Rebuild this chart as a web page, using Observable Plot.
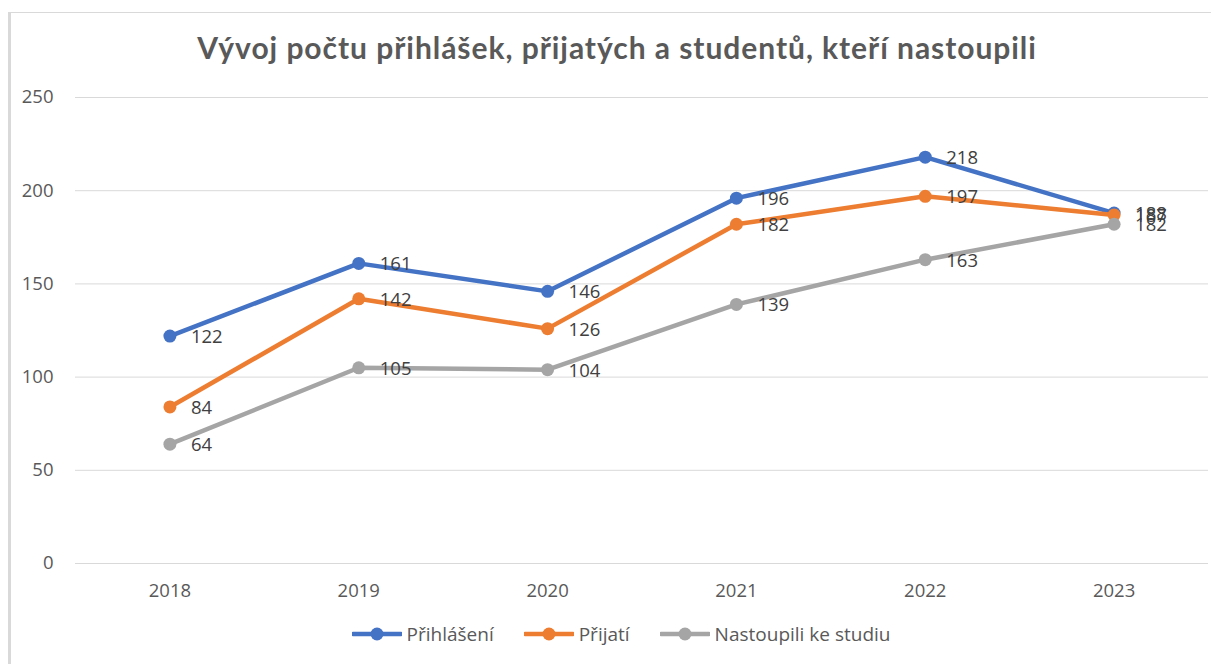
<!DOCTYPE html>
<html>
<head>
<meta charset="utf-8">
<script src="https://cdn.jsdelivr.net/npm/d3@7"></script>
<script src="https://cdn.jsdelivr.net/npm/@observablehq/plot@0.6"></script>
<style>
  html, body { margin: 0; padding: 0; background: #fff; }
  #wrap { position: relative; width: 1211px; height: 664px; overflow: hidden; font-family: "Open Sans", sans-serif; }
  #frame { position: absolute; left: 8px; top: 12px; right: -5px; bottom: -5px; border-left: 3px solid #d9d9d9; border-top: 1.5px solid #d9d9d9; }
  #title { position: absolute; left: 0; width: 1234px; top: 29px; line-height: 1.2; text-align: center; font-family: Lato, sans-serif; font-weight: bold; font-size: 30px; letter-spacing: 0.95px; color: #595959; white-space: nowrap; }
  #chart { position: absolute; left: 0; top: 80px; }
  #legend { position: absolute; top: 621px; left: 0; width: 1242px; display: flex; justify-content: center; align-items: center; font-size: 19px; color: #595959; }
  .item { display: flex; align-items: center; margin: 0 15px; }
  .item svg { margin-right: 5px; }
</style>
</head>
<body>
<div id="wrap">
  <div id="frame"></div>
  <div id="title">Vývoj počtu přihlášek, přijatých a studentů, kteří nastoupili</div>
  <div id="chart"></div>
  <div id="legend"></div>
</div>
<script>
const years = ["2018", "2019", "2020", "2021", "2022", "2023"];
const seriesNames = ["Přihlášení", "Přijatí", "Nastoupili ke studiu"];
const prihlaseni = [122, 161, 146, 196, 218, 188];
const prijati = [84, 142, 126, 182, 197, 187];
const nastoupili = [64, 105, 104, 139, 163, 182];
const colors = ["#4472C4", "#ED7D31", "#A5A5A5"];
const yTicks = [0, 50, 100, 150, 200, 250];

const allSeries = [prihlaseni, prijati, nastoupili];
const rows = [];
allSeries.forEach((vals, si) => {
  vals.forEach((v, i) => rows.push({year: years[i], value: v, series: seriesNames[si]}));
});

const marks = [
  Plot.ruleY(yTicks, {stroke: "#d9d9d9", strokeWidth: 1})
];
seriesNames.forEach((name, si) => {
  const d = rows.filter(r => r.series === name);
  marks.push(Plot.line(d, {x: "year", y: "value", stroke: colors[si], strokeWidth: 4.5}));
  marks.push(Plot.dot(d, {x: "year", y: "value", fill: colors[si], r: 6.5}));
});
seriesNames.forEach((name, si) => {
  const d = rows.filter(r => r.series === name);
  marks.push(Plot.text(d, {x: "year", y: "value", text: r => String(r.value), dx: 21, dy: 1, textAnchor: "start", fontSize: 18.5, fill: "#404040", fontFamily: "Open Sans"}));
});
marks.push(Plot.axisY(yTicks, {tickSize: 0, tickPadding: 22, fontSize: 18.5, fill: "#595959", fontFamily: "Open Sans"}));
marks.push(Plot.axisX({tickSize: 0, tickPadding: 20, fontSize: 18.5, fill: "#595959", fontFamily: "Open Sans"}));

const chart = Plot.plot({
  width: 1211,
  height: 530,
  marginLeft: 75,
  marginRight: 3,
  marginTop: 17,
  marginBottom: 47,
  x: {type: "point", domain: years, padding: 0.5, round: false, label: null},
  y: {domain: [0, 250], label: null},
  style: {background: "transparent", overflow: "visible"},
  marks
});
document.getElementById("chart").appendChild(chart);

const legend = document.getElementById("legend");
seriesNames.forEach((name, si) => {
  const item = document.createElement("div");
  item.className = "item";
  item.innerHTML = `<svg width="50" height="16"><line x1="1" x2="49" y1="8" y2="8" stroke="${colors[si]}" stroke-width="4.5" stroke-linecap="round"/><circle cx="25" cy="8" r="6.5" fill="${colors[si]}"/></svg><span>${name}</span>`;
  legend.appendChild(item);
});
</script>
</body>
</html>
